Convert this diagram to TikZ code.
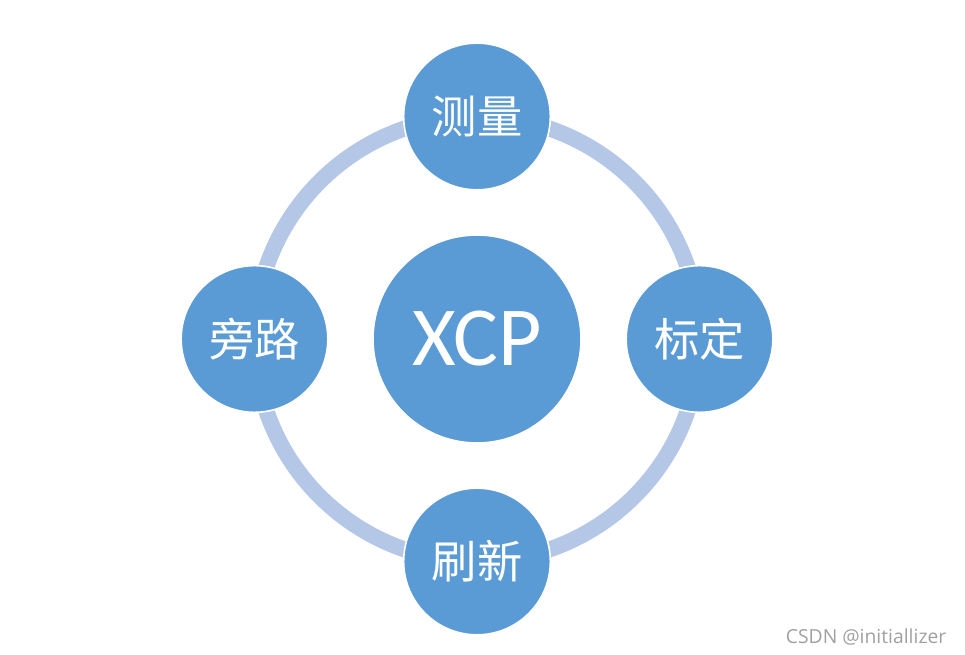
\documentclass[tikz,border=0pt]{standalone}
\usepackage{fontspec}
\setmainfont{Carlito}
\newfontfamily\cjk{Noto Sans CJK SC}
\newfontfamily\wmfont{Open Sans}
\definecolor{nodeblue}{HTML}{5B9BD5}
\definecolor{ringblue}{HTML}{B4C7E7}
\definecolor{wmgray}{HTML}{A0A0A0}
\begin{document}
\begin{tikzpicture}[x=0.75pt,y=0.75pt,
  bigc/.style={circle,fill=nodeblue,draw=white,line width=1.2pt,minimum size=156pt,inner sep=0pt,text=white,font=\fontsize{63}{63}\selectfont},
  smallc/.style={circle,fill=nodeblue,draw=white,line width=1.2pt,minimum size=110pt,inner sep=0pt,text=white,font=\cjk\fontsize{34}{34}\selectfont},
  ring/.style={draw=ringblue,line width=12pt}]
\useasboundingbox (0,0) rectangle (965,655);
\coordinate (c) at (477,316);
\draw[ring] (c) circle[radius=222.5];
\node[bigc] (xcp) at (c) {XCP};
\node[smallc] (top) at (477,538.5) {测量};
\node[smallc] (right) at (699.5,316) {标定};
\node[smallc] (bottom) at (477,93.5) {刷新};
\node[smallc] (left) at (254.5,316) {旁路};
\node[font=\wmfont\fontsize{14.5}{14.5}\selectfont,text=wmgray,anchor=east] (wm) at (951,18) {CSDN @initiallizer};
\end{tikzpicture}
\end{document}
